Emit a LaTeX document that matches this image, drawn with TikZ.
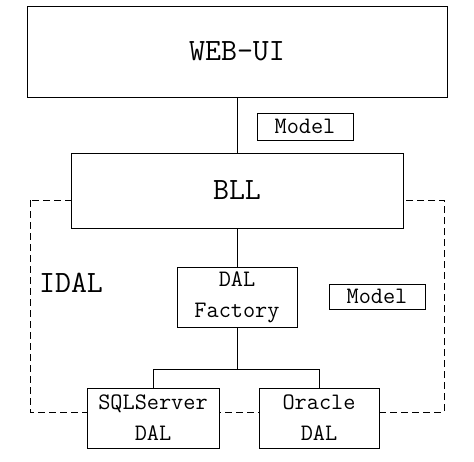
\documentclass[tikz,border=0pt]{standalone}
\begin{document}
\begin{tikzpicture}[x=1pt,y=-1pt,
  line width=1pt,
  box/.style={draw, line width=1pt, fill=white, inner sep=0pt, align=center},
  big/.style={font=\fontsize{31}{31}\selectfont\ttfamily},
  small/.style={font=\fontsize{23.6}{31}\selectfont\ttfamily},
  dashbox/.style={draw, line width=1pt, dash pattern=on 7pt off 4pt}]
\useasboundingbox (0,0) rectangle (474,461);
\fill[white] (0,0) rectangle (474,461);
\path[dashbox] (30,200) rectangle (444,412);
\node[box, big, minimum width=420pt, minimum height=91pt] (web) at (237,51.5) {WEB-UI};
\node[box, big, minimum width=332pt, minimum height=75pt] (bll) at (237,190.5) {BLL};
\node[box, small, minimum width=96pt, minimum height=27pt] (model1) at (305,126.5) {Model};
\node[box, small, minimum width=120pt, minimum height=60pt] (fac) at (237,297) {DAL\\Factory};
\node[box, small, minimum width=96pt, minimum height=25pt] (model2) at (377,296.5) {Model};
\node[big, inner sep=0pt] (idal) at (71,283) {IDAL};
\node[box, small, minimum width=132pt, minimum height=60pt] (sql) at (153,418) {SQLServer\\DAL};
\node[box, small, minimum width=120pt, minimum height=60pt] (ora) at (319,418) {Oracle\\DAL};
\coordinate (j) at (237,369);
\draw (web.south) -- (bll.north);
\draw (bll.south) -- (fac.north);
\draw (fac.south) -- (j);
\draw (sql.north) -- (sql.north |- j) -- (ora.north |- j) -- (ora.north);
\end{tikzpicture}
\end{document}
